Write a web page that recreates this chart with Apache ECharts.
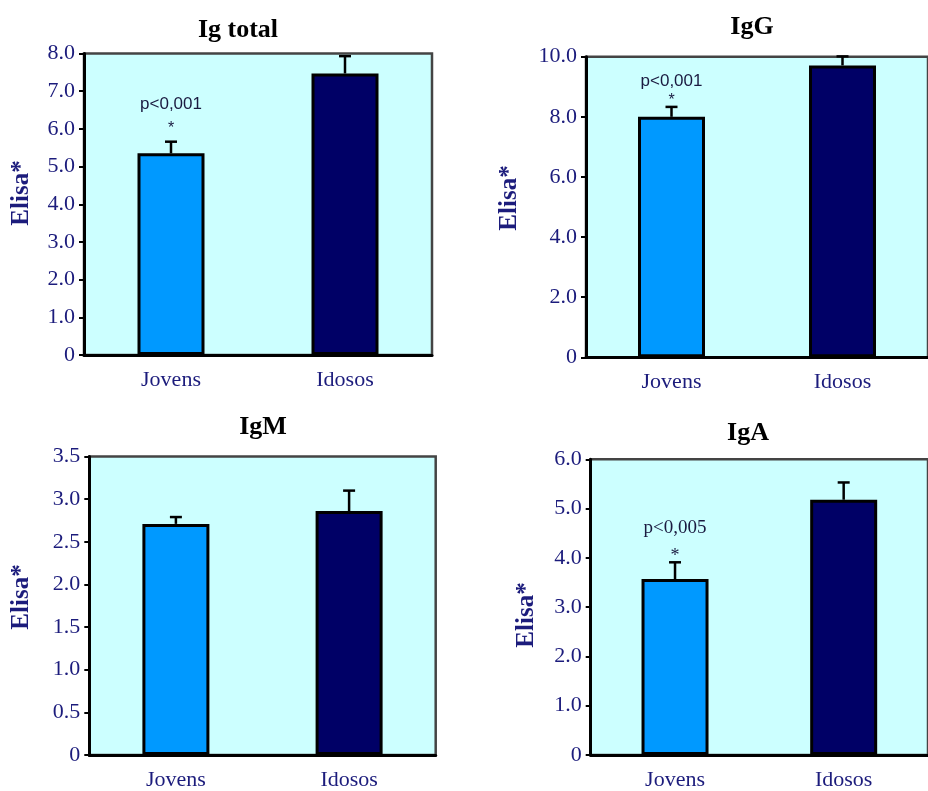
<!DOCTYPE html>
<html>
<head>
<meta charset="utf-8">
<script src="https://cdn.jsdelivr.net/npm/echarts@6/dist/echarts.min.js"></script>
<style>
  html, body { margin: 0; padding: 0; background: #ffffff; }
  #chart { width: 928px; height: 791px; }
</style>
</head>
<body>
<div id="chart"></div>
<script>
// ---------------- data ----------------
const categories = ["Jovens", "Idosos"];

const panelTitles = ["Ig total", "IgG", "IgM", "IgA"];
const yAxisTitle = "Elisa*";

const igTotalMeans = [5.35, 7.47];
const igTotalErrors = [0.31, 0.46];

const iggMeans = [8.0, 9.71];
const iggErrors = [0.33, 0.30];

const igmMeans = [2.71, 2.86];
const igmErrors = [0.08, 0.24];

const igaMeans = [3.57, 5.18];
const igaErrors = [0.34, 0.35];

const igTotalTicks = ["0", "1.0", "2.0", "3.0", "4.0", "5.0", "6.0", "7.0", "8.0"];
const iggTicks = ["0", "2.0", "4.0", "6.0", "8.0", "10.0"];
const igmTicks = ["0", "0.5", "1.0", "1.5", "2.0", "2.5", "3.0", "3.5"];
const igaTicks = ["0", "1.0", "2.0", "3.0", "4.0", "5.0", "6.0"];

const igTotalPValues = ["p<0,001", ""];
const iggPValues = ["p<0,001", ""];
const igmPValues = ["", ""];
const igaPValues = ["p<0,005", ""];

// ---------------- layout / style ----------------
const barColors = ["#0099ff", "#000066"];
const navy = "#1c1c7c";
const serif = "'Liberation Serif', 'Times New Roman', serif";
const sans = "'Liberation Sans', Arial, sans-serif";

const panels = [
  { means: igTotalMeans, errors: igTotalErrors, ticks: igTotalTicks, pv: igTotalPValues,
    grid: { left: 84, top: 53.5, width: 348, height: 301.5 },
    title: [238, 30], ylab: [22, 193],
    ann: { font: sans, size: 17, starSize: 16, pDy: -37, starDy: -13, color: "#1a1a40" } },
  { means: iggMeans, errors: iggErrors, ticks: iggTicks, pv: iggPValues,
    grid: { left: 586, top: 56.7, width: 353, height: 300.6 },
    title: [752, 27], ylab: [510, 198],
    ann: { font: sans, size: 17, starSize: 16, pDy: -26, starDy: -6, color: "#1a1a40" } },
  { means: igmMeans, errors: igmErrors, ticks: igmTicks, pv: igmPValues,
    grid: { left: 89.3, top: 456.5, width: 346.4, height: 298.5 },
    title: [263, 427], ylab: [22, 597],
    ann: { font: sans, size: 17, starSize: 16, pDy: -30, starDy: -10, color: "#1a1a40" } },
  { means: igaMeans, errors: igaErrors, ticks: igaTicks, pv: igaPValues,
    grid: { left: 590.7, top: 459.3, width: 347, height: 298.4 },
    title: [748, 433], ylab: [527, 615],
    ann: { font: serif, size: 19, starSize: 18, pDy: -34, starDy: -6, color: "#1a1a40" } }
];

const grids = [], xAxes = [], yAxes = [], series = [], graphics = [];

panels.forEach((p, i) => {
  const max = parseFloat(p.ticks[p.ticks.length - 1]);
  const interval = parseFloat(p.ticks[1]);
  grids.push(Object.assign({
    show: true, backgroundColor: "#ccffff", borderColor: "#444444", borderWidth: 2.5
  }, p.grid));
  xAxes.push({
    type: "category", gridIndex: i, data: categories,
    axisLine: { lineStyle: { color: "#000", width: 3 } },
    axisTick: { show: false },
    axisLabel: { color: navy, fontFamily: serif, fontSize: 22, margin: 14 }
  });
  yAxes.push({
    type: "value", gridIndex: i, min: 0, max: max, interval: interval,
    splitLine: { show: false },
    axisLine: { show: true, lineStyle: { color: "#000", width: 3 } },
    axisTick: { show: true, length: 5, lineStyle: { color: "#000", width: 2 } },
    axisLabel: {
      color: navy, fontFamily: serif, fontSize: 22, margin: 9,
      padding: [6, 0, 0, 0],
      formatter: v => p.ticks[Math.round(v / interval)]
    }
  });
  series.push({
    type: "bar", xAxisIndex: i, yAxisIndex: i, barWidth: 67,
    data: p.means.map((m, k) => ({
      value: m,
      itemStyle: { color: barColors[k], borderColor: "#000", borderWidth: 3 }
    })),
    z: 2
  });
  const ann = p.ann;
  series.push({
    type: "custom", xAxisIndex: i, yAxisIndex: i, clip: false, z: 3,
    data: p.means.map((m, k) => [k, m, p.errors[k]]),
    renderItem: function (params, api) {
      const k = api.value(0), v = api.value(1), e = api.value(2);
      const base = api.coord([k, v]);
      const top = api.coord([k, v + e]);
      const children = [
        { type: "line", shape: { x1: base[0], y1: base[1], x2: top[0], y2: top[1] },
          style: { stroke: "#000", lineWidth: 2.5 } },
        { type: "line", shape: { x1: top[0] - 6, y1: top[1], x2: top[0] + 6, y2: top[1] },
          style: { stroke: "#000", lineWidth: 2.5 } }
      ];
      const label = p.pv[k];
      if (label) {
        children.push({
          type: "text", x: top[0], y: top[1] + ann.pDy,
          style: { text: label, fill: ann.color, font: ann.size + "px " + ann.font,
                   align: "center", verticalAlign: "middle" }
        });
        children.push({
          type: "text", x: top[0], y: top[1] + ann.starDy,
          style: { text: "*", fill: ann.color, font: ann.starSize + "px " + ann.font,
                   align: "center", verticalAlign: "middle" }
        });
      }
      return { type: "group", children: children };
    }
  });
  graphics.push({
    type: "text", x: p.title[0], y: p.title[1],
    style: { text: panelTitles[i], fill: "#000", font: "bold 26px " + serif,
             align: "center", verticalAlign: "middle" }
  });
  graphics.push({
    type: "text", x: p.ylab[0], y: p.ylab[1], rotation: Math.PI / 2,
    style: { text: yAxisTitle, fill: navy, font: "bold 25px " + serif,
             align: "center", verticalAlign: "middle" }
  });
});

const chart = echarts.init(document.getElementById("chart"), null, { renderer: "canvas" });
chart.setOption({
  animation: false,
  backgroundColor: "#ffffff",
  grid: grids,
  xAxis: xAxes,
  yAxis: yAxes,
  series: series,
  graphic: graphics
});
</script>
</body>
</html>
